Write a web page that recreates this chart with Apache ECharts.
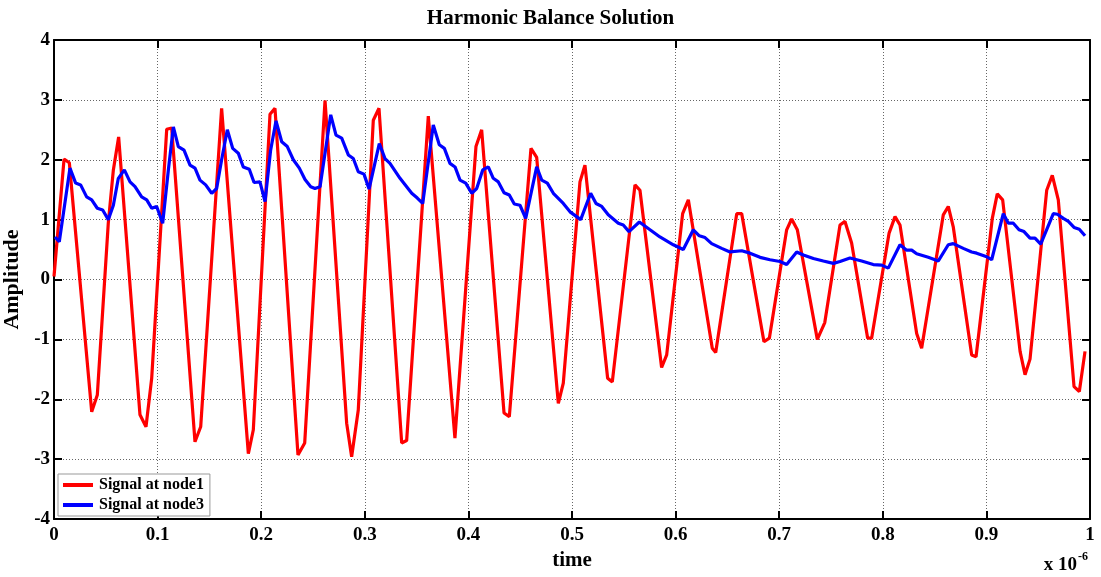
<!DOCTYPE html>
<html>
<head>
<meta charset="utf-8">
<script src="https://cdn.jsdelivr.net/npm/echarts@6/dist/echarts.min.js"></script>
<style>html,body{margin:0;padding:0;background:#fff}#c{width:1101px;height:577px}</style>
</head>
<body>
<div id="c"></div>
<script>
const title = 'Harmonic Balance Solution';
const xName = 'time';
const yName = 'Amplitude';
const seriesNames = ['Signal at node1', 'Signal at node3'];
const xTicks = [0, 0.1, 0.2, 0.3, 0.4, 0.5, 0.6, 0.7, 0.8, 0.9, 1];
const yTicks = [-4, -3, -2, -1, 0, 1, 2, 3, 4];

// time (x 1e-6), amplitude
const node1 = [
  [0.000,0.05],[0.0097,2.01],[0.0148,1.95],[0.0364,-2.21],[0.0418,-1.93],[0.0524,0.94],[0.0573,1.83],
  [0.0624,2.38],[0.083,-2.26],[0.0888,-2.46],[0.0943,-1.65],[0.1088,2.51],[0.1136,2.53],
  [0.1361,-2.71],[0.1416,-2.46],[0.1618,2.86],[0.1876,-2.91],[0.1924,-2.51],[0.2085,2.76],
  [0.2133,2.86],[0.2355,-2.93],[0.242,-2.73],[0.2616,2.99],[0.2825,-2.4],[0.2873,-2.96],
  [0.2937,-2.18],[0.3082,2.66],[0.3137,2.86],[0.3356,-2.73],[0.3404,-2.69],[0.3613,2.73],
  [0.387,-2.65],[0.4073,2.22],[0.4128,2.5],[0.4344,-2.23],[0.4395,-2.29],[0.4604,2.19],
  [0.4659,2.04],[0.4868,-2.07],[0.4916,-1.73],[0.5077,1.63],[0.5125,1.91],[0.5344,-1.65],
  [0.5389,-1.71],[0.5608,1.58],[0.5656,1.49],[0.5865,-1.47],[0.5914,-1.26],[0.6068,1.1],
  [0.6123,1.33],[0.6354,-1.15],[0.6387,-1.22],[0.659,1.1],[0.6638,1.1],[0.6853,-1.04],
  [0.6905,-0.98],[0.7072,0.83],[0.712,1.01],[0.7175,0.83],[0.7368,-1.0],[0.744,-0.72],
  [0.7587,0.91],[0.7635,0.97],[0.7699,0.61],[0.7854,-0.98],[0.7892,-0.98],[0.806,0.77],
  [0.8118,1.05],[0.8166,0.91],[0.8327,-0.9],[0.8375,-1.15],[0.8584,1.08],[0.8632,1.22],
  [0.868,0.88],[0.8858,-1.26],[0.89,-1.29],[0.9057,1.02],[0.9105,1.43],[0.9157,1.33],
  [0.9325,-1.2],[0.9373,-1.59],[0.9421,-1.33],[0.9582,1.49],[0.9636,1.74],[0.9694,1.33],
  [0.9846,-1.79],[0.9897,-1.87],[0.9952,-1.2]
];

const node3 = [
  [0.001,0.71],[0.0051,0.63],[0.0154,1.86],[0.0209,1.61],[0.0257,1.58],[0.0315,1.38],[0.0364,1.33],
  [0.0418,1.19],[0.047,1.16],[0.0524,1.0],[0.0573,1.24],[0.0621,1.69],[0.0679,1.83],[0.0734,1.63],
  [0.0782,1.55],[0.0846,1.38],[0.0895,1.33],[0.0943,1.19],[0.0991,1.22],[0.1049,0.94],[0.1104,1.83],
  [0.1152,2.55],[0.12,2.22],[0.1255,2.16],[0.1313,1.91],[0.1361,1.86],[0.1409,1.66],[0.1464,1.58],
  [0.1522,1.44],[0.157,1.52],[0.1618,2.0],[0.1673,2.5],[0.1725,2.19],[0.1779,2.11],[0.1827,1.88],
  [0.1885,1.84],[0.1931,1.62],[0.1988,1.63],[0.2037,1.3],[0.2091,2.16],[0.2143,2.65],[0.2198,2.3],
  [0.2252,2.22],[0.231,2.0],[0.2368,1.86],[0.2423,1.67],[0.2478,1.55],[0.2519,1.52],[0.2568,1.55],
  [0.2671,2.75],[0.2722,2.41],[0.2777,2.36],[0.2841,2.08],[0.2889,2.02],[0.2937,1.8],[0.2992,1.76],
  [0.3041,1.51],[0.314,2.27],[0.3195,2.02],[0.3243,1.94],[0.334,1.69],[0.3453,1.44],[0.3507,1.36],
  [0.3559,1.27],[0.3661,2.58],[0.3719,2.25],[0.3768,2.19],[0.3822,1.94],[0.3871,1.88],[0.3919,1.66],
  [0.3974,1.61],[0.4032,1.44],[0.408,1.52],[0.4138,1.83],[0.4192,1.88],[0.424,1.69],[0.4289,1.63],
  [0.4344,1.45],[0.4395,1.41],[0.4443,1.26],[0.4498,1.24],[0.4553,1.02],[0.4659,1.88],[0.4708,1.66],
  [0.4762,1.61],[0.482,1.44],[0.4916,1.27],[0.4981,1.13],[0.5084,1.0],[0.518,1.44],[0.5232,1.27],
  [0.5287,1.22],[0.535,1.08],[0.5447,0.94],[0.5495,0.91],[0.555,0.8],[0.565,0.96],[0.5753,0.83],
  [0.5849,0.71],[0.5978,0.58],[0.6074,0.5],[0.6171,0.83],[0.6229,0.73],[0.6284,0.7],[0.6348,0.6],
  [0.6445,0.52],[0.6525,0.46],[0.6638,0.48],[0.6718,0.44],[0.6815,0.37],[0.6911,0.33],[0.7008,0.3],
  [0.7072,0.25],[0.7169,0.46],[0.7233,0.41],[0.733,0.35],[0.7426,0.31],[0.7523,0.27],[0.7587,0.3],
  [0.7683,0.36],[0.7796,0.31],[0.7908,0.25],[0.7989,0.24],[0.8053,0.19],[0.8166,0.58],[0.823,0.49],
  [0.8279,0.49],[0.8327,0.43],[0.8439,0.37],[0.8536,0.31],[0.8632,0.58],[0.868,0.6],[0.8777,0.52],
  [0.8858,0.46],[0.8906,0.44],[0.9003,0.38],[0.9051,0.33],[0.9163,1.1],[0.9212,0.94],[0.926,0.94],
  [0.9315,0.83],[0.9363,0.8],[0.9421,0.69],[0.9469,0.69],[0.9524,0.59],[0.9646,1.1],[0.9685,1.09],
  [0.9743,1.02],[0.9791,0.97],[0.9846,0.87],[0.9897,0.84],[0.9952,0.73]
];

const FONT = '"Liberation Serif", "DejaVu Serif", serif';
const chart = echarts.init(document.getElementById('c'), null, {renderer: 'canvas'});
const fmtX = v => (v === 0 ? '0' : v === 1 ? '1' : v.toFixed(1));
const tickStyle = {show: true, inside: true, length: 8, lineStyle: {color: '#000', width: 2}};
const axisLineStyle = {show: true, onZero: false, lineStyle: {color: '#000', width: 2}};
chart.setOption({
  animation: false,
  backgroundColor: '#fff',
  title: {
    text: title, left: 'center', top: 3,
    textStyle: {fontFamily: FONT, fontWeight: 'bold', fontSize: 21, color: '#000'}
  },
  grid: {left: 54, right: 11, top: 40, bottom: 58, containLabel: false, outerBoundsMode: 'none'},
  legend: {
    orient: 'vertical', left: 58, top: 474,
    data: seriesNames,
    icon: 'rect', itemWidth: 30, itemHeight: 4, itemGap: 4,
    backgroundColor: '#fff', borderColor: '#999', borderWidth: 1,
    padding: [3, 6, 3, 5],
    textStyle: {fontFamily: FONT, fontWeight: 'bold', fontSize: 16, color: '#000', padding: [0, 0, 0, 1]}
  },
  xAxis: [{
    type: 'value', min: xTicks[0], max: xTicks[xTicks.length - 1], interval: 0.1,
    position: 'bottom',
    name: xName, nameLocation: 'middle', nameGap: 27,
    nameTextStyle: {fontFamily: FONT, fontWeight: 'bold', fontSize: 21, color: '#000'},
    axisLine: axisLineStyle, axisTick: tickStyle,
    axisLabel: {formatter: fmtX, fontFamily: FONT, fontWeight: 'bold', fontSize: 19, color: '#000', margin: 7},
    splitLine: {show: true, lineStyle: {color: '#666', type: [1, 2], width: 1}}
  }, {
    type: 'value', min: xTicks[0], max: xTicks[xTicks.length - 1], interval: 0.1,
    position: 'top',
    axisLine: axisLineStyle, axisTick: tickStyle,
    axisLabel: {show: false}, splitLine: {show: false}
  }],
  yAxis: [{
    type: 'value', min: yTicks[0], max: yTicks[yTicks.length - 1], interval: 1,
    position: 'left',
    name: yName, nameLocation: 'middle', nameGap: 26, nameRotate: 90,
    nameTextStyle: {fontFamily: FONT, fontWeight: 'bold', fontSize: 22, color: '#000'},
    axisLine: axisLineStyle, axisTick: tickStyle,
    axisLabel: {fontFamily: FONT, fontWeight: 'bold', fontSize: 19, color: '#000', margin: 4},
    splitLine: {show: true, lineStyle: {color: '#666', type: [1, 2], width: 1}}
  }, {
    type: 'value', min: yTicks[0], max: yTicks[yTicks.length - 1], interval: 1,
    position: 'right',
    axisLine: axisLineStyle, axisTick: tickStyle,
    axisLabel: {show: false}, splitLine: {show: false}
  }],
  series: [{
    name: seriesNames[0], type: 'line', data: node1, showSymbol: false, symbol: 'none',
    lineStyle: {color: '#ff0000', width: 3.2}, itemStyle: {color: '#ff0000'}, z: 3
  }, {
    name: seriesNames[1], type: 'line', data: node3, showSymbol: false, symbol: 'none',
    lineStyle: {color: '#0000ff', width: 3.2}, itemStyle: {color: '#0000ff'}, z: 4
  }],
  graphic: [{
    type: 'text', right: 13, top: 551,
    style: {
      text: '{b|x 10}{s|-6}',
      rich: {
        b: {fontFamily: FONT, fontWeight: 'bold', fontSize: 19, fill: '#000', verticalAlign: 'bottom', lineHeight: 24},
        s: {fontFamily: FONT, fontWeight: 'bold', fontSize: 12, fill: '#000', verticalAlign: 'top', lineHeight: 24, padding: [0, 0, 13, 1]}
      }
    }
  }]
});
</script>
</body>
</html>
